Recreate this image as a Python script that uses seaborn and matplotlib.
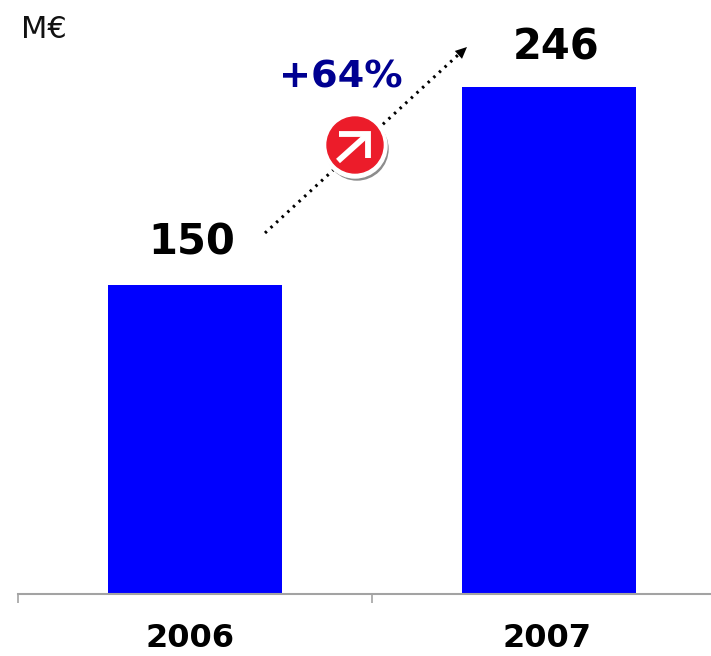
import matplotlib
matplotlib.use("Agg")
import matplotlib.pyplot as plt
from matplotlib.patches import Circle
import pandas as pd
import seaborn as sns

years = ["2006", "2007"]
revenue = [150, 246]
growth_label = "+64%"
unit_label = "M€"

W, H = 711, 656
BLUE = "#0000ff"
NAVY = "#000091"
GREY = "#a3a3a3"

sns.set_theme(style="white")
plt.rcParams["font.family"] = ["DejaVu Sans"]

df = pd.DataFrame({"year": years, "revenue": revenue})

fig = plt.figure(figsize=(W / 100, H / 100), dpi=100)
ax = fig.add_axes([18 / W, (H - 594) / H, (W - 18) / W, 594 / H])
sns.barplot(data=df, x="year", y="revenue", color=BLUE, saturation=1, width=0.494,
            linewidth=0, ax=ax)
ax.set_xlim(-0.5, (W - 18) / 354 - 0.5)
ax.set_ylim(0, 594 / 2.06)
ax.set_xlabel("")
ax.set_ylabel("")
ax.set_yticks([])
sns.despine(ax=ax, left=True)
ax.spines["bottom"].set_color(GREY)
ax.spines["bottom"].set_linewidth(1.5)

# group separators as major ticks, year labels as minor ticks
ax.set_xticks([-0.5, 0.5], labels=["", ""])
ax.set_xticks([-0.015, 0.995], labels=years, minor=True)
ax.tick_params(axis="x", which="major", length=6.5, width=1.2, color=GREY, bottom=True)
ax.tick_params(axis="x", which="minor", length=0, pad=21, labelsize=23, labelcolor="black")
for lab in ax.get_xticklabels(minor=True):
    lab.set_fontweight("bold")

ax.text(-0.008, revenue[0] + 10.5, str(revenue[0]), ha="center", va="bottom",
        fontsize=30, fontweight="bold", color="black")
ax.text(1.02, revenue[1] + 9, str(revenue[1]), ha="center", va="bottom",
        fontsize=30, fontweight="bold", color="black")

# overlay in pixel coordinates for the growth arrow and badge
ov = fig.add_axes([0, 0, 1, 1])
ov.set_xlim(0, W)
ov.set_ylim(H, 0)
ov.axis("off")
ov.patch.set_alpha(0)

ov.text(21, 29, unit_label, ha="left", va="center", fontsize=22, color="#111111")
ov.text(340.5, 77, growth_label, ha="center", va="center", fontsize=27.5,
        fontweight="bold", color=NAVY)

ov.plot([265, 458], [233, 55], color="black", lw=2.2, linestyle=(0, (0.8, 1.7)))
ov.annotate("", xy=(467, 47), xytext=(455, 58),
            arrowprops=dict(arrowstyle="-|>,head_width=0.32,head_length=0.7",
                            color="black", lw=0, shrinkA=0, shrinkB=0))

ov.add_patch(Circle((357, 149), 31, color="#8c8c8c", zorder=3))
ov.add_patch(Circle((355, 146), 32, color="white", zorder=4))
ov.add_patch(Circle((355, 145), 28, color="#ec1c2a", zorder=5))
ov.plot([338, 367], [161, 135], color="white", lw=4.2, zorder=6, solid_capstyle="butt")
ov.plot([339, 367.5, 367.5], [134, 134, 158], color="white", lw=4.2, zorder=6,
        solid_capstyle="butt", solid_joinstyle="miter")

fig.savefig("out.png", dpi=100)
